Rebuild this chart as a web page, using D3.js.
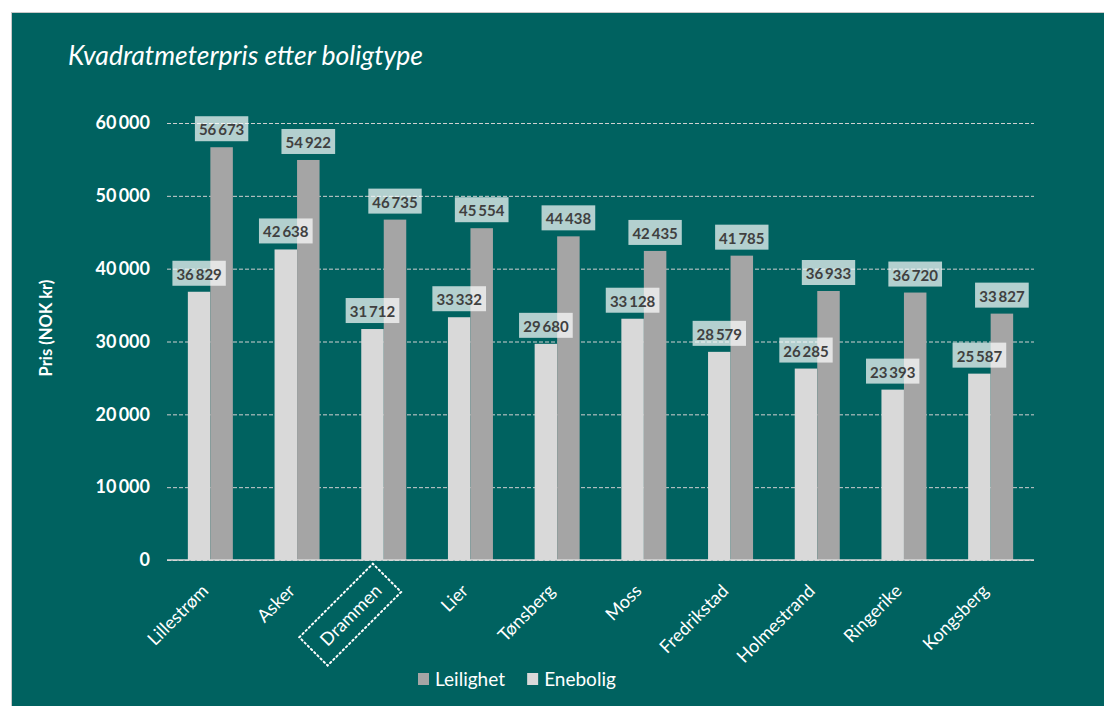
<!DOCTYPE html>
<html><head><meta charset="utf-8">
<script src="https://cdn.jsdelivr.net/npm/d3@7"></script>
<style>body{margin:0;background:#fff;}svg{display:block;}</style>
</head><body>
<svg id="c" width="1104" height="706"></svg>
<script>
const categories = ["Lillestrøm","Asker","Drammen","Lier","Tønsberg","Moss","Fredrikstad","Holmestrand","Ringerike","Kongsberg"];
const enebolig = [36829,42638,31712,33332,29680,33128,28579,26285,23393,25587];
const leilighet = [56673,54922,46735,45554,44438,42435,41785,36933,36720,33827];
const seriesNames = ["Enebolig","Leilighet"];
const legendNames = ["Leilighet","Enebolig"];
const yTicks = [0,10000,20000,30000,40000,50000,60000];
const title = "Kvadratmeterpris etter boligtype";
const yTitle = "Pris (NOK kr)";
const highlighted = "Drammen";

(function(){
const colors = {Enebolig:"#D9D9D9", Leilighet:"#A5A5A5"};
const font = "Lato, 'Open Sans', sans-serif";
const fmt = v => d3.format(",")(v).replace(/,/g, "\u2009");

const svg = d3.select("#c");
svg.append("rect").attr("x",11.5).attr("y",12.5).attr("width",1100).attr("height",700)
  .attr("fill","#006260").attr("stroke","#c8c8c8").attr("stroke-width",1);

const pL=167, pR=1034, pT=123, pB=560;
const y = d3.scaleLinear().domain([0,60000]).range([pB, pT]);
const x0 = d3.scaleBand().domain(categories).range([pL,pR]).padding(0);
const bw = x0.bandwidth();
const x1 = d3.scaleBand().domain(seriesNames).range([bw/2-22.5, bw/2+22.5]).padding(0);

svg.append("text").attr("x",68).attr("y",65).attr("fill","#fff")
  .attr("font-family",font).attr("font-style","italic").attr("font-size",26.5).text(title);

const yAxis = d3.axisLeft(y).tickValues(yTicks).tickSize(-(pR-pL)).tickFormat(d=>fmt(d)).tickPadding(17);
const ga = svg.append("g").attr("transform",`translate(${pL},0)`).call(yAxis);
ga.select(".domain").remove();
ga.selectAll(".tick line").attr("stroke","#d0d0d0").attr("stroke-dasharray","4,2").attr("stroke-width",1);
ga.selectAll(".tick text").attr("fill","#fff").attr("font-family",font).attr("font-weight","bold").attr("font-size",18);

svg.append("text").attr("transform",`translate(52,328) rotate(-90)`)
  .attr("text-anchor","middle").attr("fill","#fff").attr("font-family",font)
  .attr("font-weight","bold").attr("font-size",16.5).text(yTitle);

const data = categories.map((c,i)=>({cat:c, vals:[{s:"Enebolig",v:enebolig[i]},{s:"Leilighet",v:leilighet[i]}]}));

const g = svg.append("g");
const cg = g.selectAll("g.cat").data(data).join("g").attr("class","cat")
  .attr("transform",d=>`translate(${x0(d.cat)},0)`);
cg.selectAll("rect").data(d=>d.vals).join("rect")
  .attr("x",d=>x1(d.s)).attr("width",x1.bandwidth())
  .attr("y",d=>y(d.v)).attr("height",d=>y(0)-y(d.v)).attr("fill",d=>colors[d.s]);

svg.append("line").attr("x1",pL).attr("x2",pR).attr("y1",y(0)).attr("y2",y(0))
  .attr("stroke","#d9d9d9").attr("stroke-width",1.5);

const lg = svg.append("g");
data.forEach(d=>{
  d.vals.forEach(p=>{
    const cx = x0(d.cat)+x1(p.s)+x1.bandwidth()/2;
    const top = y(p.v);
    const t = lg.append("text").attr("x",cx).attr("y",top-12).attr("text-anchor","middle")
      .attr("font-family",font).attr("font-weight","bold").attr("font-size",15)
      .attr("fill","#404040").text(fmt(p.v));
    const bb = t.node().getBBox();
    lg.insert("rect",()=>t.node()).attr("x",cx-bb.width/2-4).attr("y",top-31).attr("width",bb.width+8).attr("height",25)
      .attr("fill","#ffffff").attr("fill-opacity",0.7);
  });
});

const xl = svg.append("g");
categories.forEach(c=>{
  const cx = x0(c)+bw/2-1, cy = 592;
  const t = xl.append("text").attr("transform",`translate(${cx},${cy}) rotate(-45)`)
    .attr("text-anchor","end").attr("fill","#fff").attr("font-family",font).attr("font-size",18).text(c);
  if(c===highlighted){
    const bb = t.node().getBBox();
    xl.append("rect").attr("transform",`translate(${cx},${cy}) rotate(-45)`)
      .attr("x",bb.x-13).attr("y",bb.y-9).attr("width",bb.width+26).attr("height",bb.height+18)
      .attr("fill","none").attr("stroke","#fff").attr("stroke-width",2).attr("stroke-dasharray","1.5,3").attr("stroke-linecap","round");
  }
});

const leg = svg.append("g").attr("transform","translate(418,680)");
let lx = 0;
legendNames.forEach(n=>{
  leg.append("rect").attr("x",lx).attr("y",-7).attr("width",11).attr("height",12).attr("fill",colors[n]);
  const t = leg.append("text").attr("x",lx+17).attr("y",6).attr("fill","#fff").attr("font-family",font).attr("font-size",19).text(n);
  lx += 17 + t.node().getBBox().width + 22;
});
})();
</script>
</body></html>
